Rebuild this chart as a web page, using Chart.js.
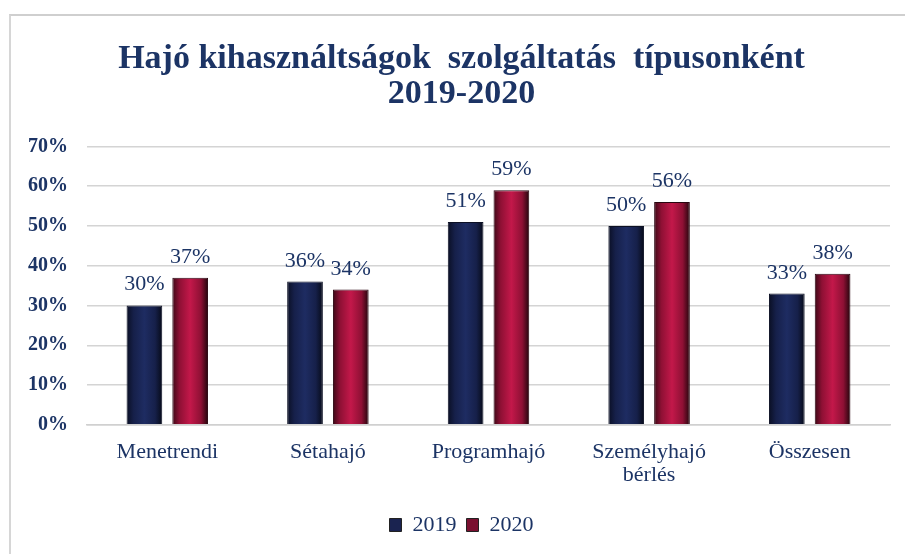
<!DOCTYPE html>
<html>
<head>
<meta charset="utf-8">
<script src="https://cdn.jsdelivr.net/npm/chart.js@4.4.0/dist/chart.umd.min.js"></script>
<style>
  html, body { margin: 0; padding: 0; background: #fff; }
  #wrap { position: relative; width: 905px; height: 554px; }
  #frame { position: absolute; left: 9px; top: 14px; right: -2px; bottom: -2px;
           border-top: 2px solid #cfcfcf; border-left: 2px solid #d6d6d6; pointer-events: none; }
</style>
</head>
<body>
<div id="wrap">
  <canvas id="chart" width="905" height="554"></canvas>
  <div id="frame"></div>
</div>
<script>
// data
const categories = ['Menetrendi', 'Sétahajó', 'Programhajó', ['Személyhajó', 'bérlés'], 'Összesen'];
const seriesNames = ['2019', '2020'];
const values2019 = [30, 36, 51, 50, 33];
const values2020 = [37, 34, 59, 56, 38];
const yTicks = [0, 10, 20, 30, 40, 50, 60, 70];

const navy = '#1c3465';
const serif = '"Liberation Serif", "Times New Roman", serif';

const CAT_PCT = 0.57;
const BAR_PCT = 0.78;

// horizontal shading across each bar, like the cylinder look of the original
function barGradient(stops) {
  return (ctx) => {
    const chart = ctx.chart;
    const x = chart.scales.x;
    if (!x || ctx.dataIndex === undefined) return stops[2];
    const catW = x.width / categories.length;
    const slot = catW * CAT_PCT / 2;
    const w = slot * BAR_PCT;
    const cx = x.getPixelForValue(ctx.dataIndex) + (ctx.datasetIndex === 0 ? -slot / 2 : slot / 2);
    const g = chart.ctx.createLinearGradient(cx - w / 2, 0, cx + w / 2, 0);
    g.addColorStop(0, stops[0]);
    g.addColorStop(0.2, stops[1]);
    g.addColorStop(0.5, stops[2]);
    g.addColorStop(0.8, stops[1]);
    g.addColorStop(1, stops[3]);
    return g;
  };
}

const valueLabels = {
  id: 'valueLabels',
  // y axis was narrowed to centre the title; widen its label clip area back out
  afterLayout(chart) {
    chart.scales.y.left -= 24;
  },
  afterDatasetsDraw(chart) {
    const ctx = chart.ctx;
    ctx.save();
    ctx.font = '22px ' + serif;
    ctx.fillStyle = navy;
    ctx.textAlign = 'center';
    ctx.textBaseline = 'alphabetic';
    chart.data.datasets.forEach((ds, i) => {
      chart.getDatasetMeta(i).data.forEach((bar, j) => {
        ctx.fillText(ds.data[j] + '%', bar.x, bar.y - 15);
      });
    });
    ctx.restore();
  }
};

new Chart(document.getElementById('chart'), {
  type: 'bar',
  data: {
    labels: categories,
    datasets: [
      {
        label: seriesNames[0],
        data: values2019,
        backgroundColor: barGradient(['#0a0f24', '#16204a', '#1e2c62', '#060a18']),
        borderColor: '#0c1024',
        borderWidth: 1,
        categoryPercentage: CAT_PCT,
        barPercentage: BAR_PCT
      },
      {
        label: seriesNames[1],
        data: values2020,
        backgroundColor: barGradient(['#3c0816', '#8e1034', '#c3184a', '#22050c']),
        borderColor: '#2a0610',
        borderWidth: 1,
        categoryPercentage: CAT_PCT,
        barPercentage: BAR_PCT
      }
    ]
  },
  options: {
    responsive: false,
    animation: false,
    // extra left padding centres title/legend like the original; y axis is narrowed to compensate
    layout: { padding: { left: 33, right: 15, top: 0, bottom: 8 } },
    plugins: {
      title: {
        display: true,
        text: ['Hajó kihasználtságok  szolgáltatás  típusonként', '2019-2020'],
        color: navy,
        font: { family: serif, size: 34, weight: 'bold', lineHeight: 1.05 },
        padding: { top: 41, bottom: 34 }
      },
      legend: {
        position: 'bottom',
        labels: {
          color: navy,
          font: { family: serif, size: 22 },
          boxWidth: 12,
          boxHeight: 13,
          padding: 10,
          generateLabels(chart) {
            const fills = ['#1a2350', '#7a1030'];
            return chart.data.datasets.map((ds, i) => ({
              text: ds.label,
              fillStyle: fills[i],
              strokeStyle: '#222',
              lineWidth: 1,
              fontColor: navy,
              datasetIndex: i
            }));
          }
        }
      },
      tooltip: { enabled: false }
    },
    scales: {
      x: {
        grid: { display: false },
        border: { display: true, color: '#d0d0d0', width: 1.5 },
        afterFit(axis) { axis.height += 9; },
        ticks: {
          color: navy,
          font: { family: serif, size: 22, lineHeight: 1.05 },
          padding: 8,
          maxRotation: 0,
          autoSkip: false
        }
      },
      y: {
        min: 0,
        max: 70,
        afterBuildTicks(axis) {
          axis.ticks = yTicks.map(v => ({ value: v }));
        },
        afterFit(axis) { axis.width -= 24; },
        grid: { color: '#d4d4d4', lineWidth: 1.5, drawTicks: false },
        border: { display: false },
        ticks: {
          color: navy,
          font: { family: serif, size: 20, weight: 'bold' },
          padding: 19,
          callback: v => v + '%'
        }
      }
    }
  },
  plugins: [valueLabels]
});
</script>
</body>
</html>
